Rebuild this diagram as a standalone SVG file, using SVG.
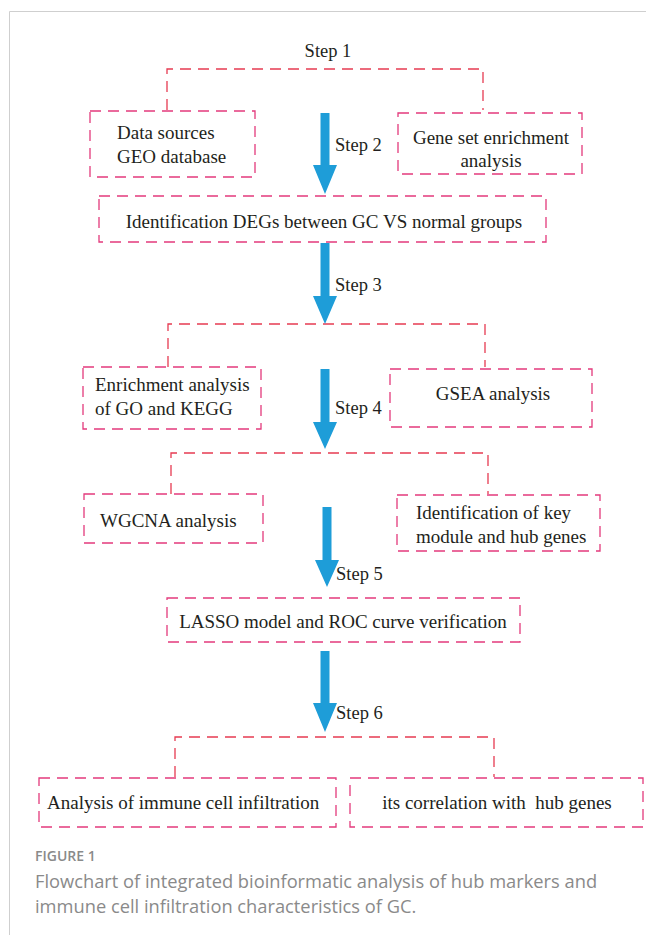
<svg xmlns="http://www.w3.org/2000/svg" width="646" height="935" viewBox="0 0 646 935">
<defs>
<style>
.box{fill:none;stroke:#e33a7c;stroke-width:1.3;stroke-dasharray:11 7}
.br{fill:none;stroke:#e63b52;stroke-width:1.3;stroke-dasharray:11 7}
.t{font-family:"Liberation Serif","Times New Roman",serif;font-size:19px;fill:#231f20}
.s{font-family:"Liberation Serif","Times New Roman",serif;font-size:18.5px;fill:#231f20}
.m{text-anchor:middle}
.arr{fill:#1e9dd8}
.cap{font-family:"Open Sans","Noto Sans",sans-serif;fill:#8a8a8a}
</style>
</defs>
<rect width="646" height="935" fill="#fff"/>
<path d="M9.5 935 V11.5 H646" fill="none" stroke="#cfcfcf" stroke-width="1"/>

<g id="connectors">
<path class="br" d="M167 110 V69 H483 V110"/>
<path class="br" d="M168 367 V324 H485 V367"/>
<path class="br" d="M171 494 V453 H488 V494"/>
<path class="br" d="M175 777 V737 H494 V777"/>
<path class="arr" d="M320.5 113 H329.5 V165 H337 L325 194 L313 165 H320.5 Z"/>
<path class="arr" d="M320.5 243 H329.5 V296 H337 L325 324 L313 296 H320.5 Z"/>
<path class="arr" d="M320.5 369 H329.5 V422 H337 L325 449 L313 422 H320.5 Z"/>
<path class="arr" d="M322.5 507 H331.5 V560 H339 L327 587 L315 560 H322.5 Z"/>
<path class="arr" d="M320.5 651 H329.5 V703 H337 L325 732 L313 703 H320.5 Z"/>
<text class="s m" x="328" y="57">Step 1</text>
<text class="s" x="335" y="151">Step 2</text>
<text class="s" x="335" y="291">Step 3</text>
<text class="s" x="335" y="414">Step 4</text>
<text class="s" x="336" y="580">Step 5</text>
<text class="s" x="336" y="719">Step 6</text>
</g>

<g id="data-sources">
<rect class="box" x="90" y="111" width="165" height="66"/>
<text class="t" x="117" y="139">Data sources</text>
<text class="t" x="117" y="163">GEO database</text>
</g>
<g id="gene-set">
<rect class="box" x="398" y="113" width="184" height="61"/>
<text class="t m" x="491" y="144">Gene set enrichment</text>
<text class="t m" x="491" y="167">analysis</text>
</g>
<g id="degs">
<rect class="box" x="99" y="196" width="447" height="46"/>
<text class="t m" x="324" y="228">Identification DEGs between GC VS normal groups</text>
</g>
<g id="enrichment">
<rect class="box" x="83" y="367" width="178" height="62"/>
<text class="t" x="95" y="391">Enrichment analysis</text>
<text class="t" x="95" y="415">of GO and KEGG</text>
</g>
<g id="gsea">
<rect class="box" x="390" y="369" width="202" height="58"/>
<text class="t m" x="493" y="400">GSEA analysis</text>
</g>
<g id="wgcna">
<rect class="box" x="84" y="494" width="179" height="49"/>
<text class="t" x="100" y="527">WGCNA analysis</text>
</g>
<g id="key-module">
<rect class="box" x="397" y="495" width="203" height="56"/>
<text class="t" x="416" y="519">Identification of key</text>
<text class="t" x="416" y="543">module and hub genes</text>
</g>
<g id="lasso">
<rect class="box" x="167" y="598" width="353" height="44"/>
<text class="t m" x="343" y="628">LASSO model and ROC curve verification</text>
</g>
<g id="immune">
<rect class="box" x="39" y="778" width="297" height="49"/>
<text class="t" x="47" y="809">Analysis of immune cell infiltration</text>
</g>
<g id="correlation">
<rect class="box" x="350" y="778" width="293" height="49"/>
<text class="t m" x="497" y="809" xml:space="preserve">its correlation with  hub genes</text>
</g>

<g id="caption">
<text class="cap" x="35" y="861" font-size="14" font-weight="600">FIGURE 1</text>
<text class="cap" x="35" y="888" font-size="18.3">Flowchart of integrated bioinformatic analysis of hub markers and</text>
<text class="cap" x="35" y="913" font-size="18.3">immune cell infiltration characteristics of GC.</text>
</g>
</svg>
